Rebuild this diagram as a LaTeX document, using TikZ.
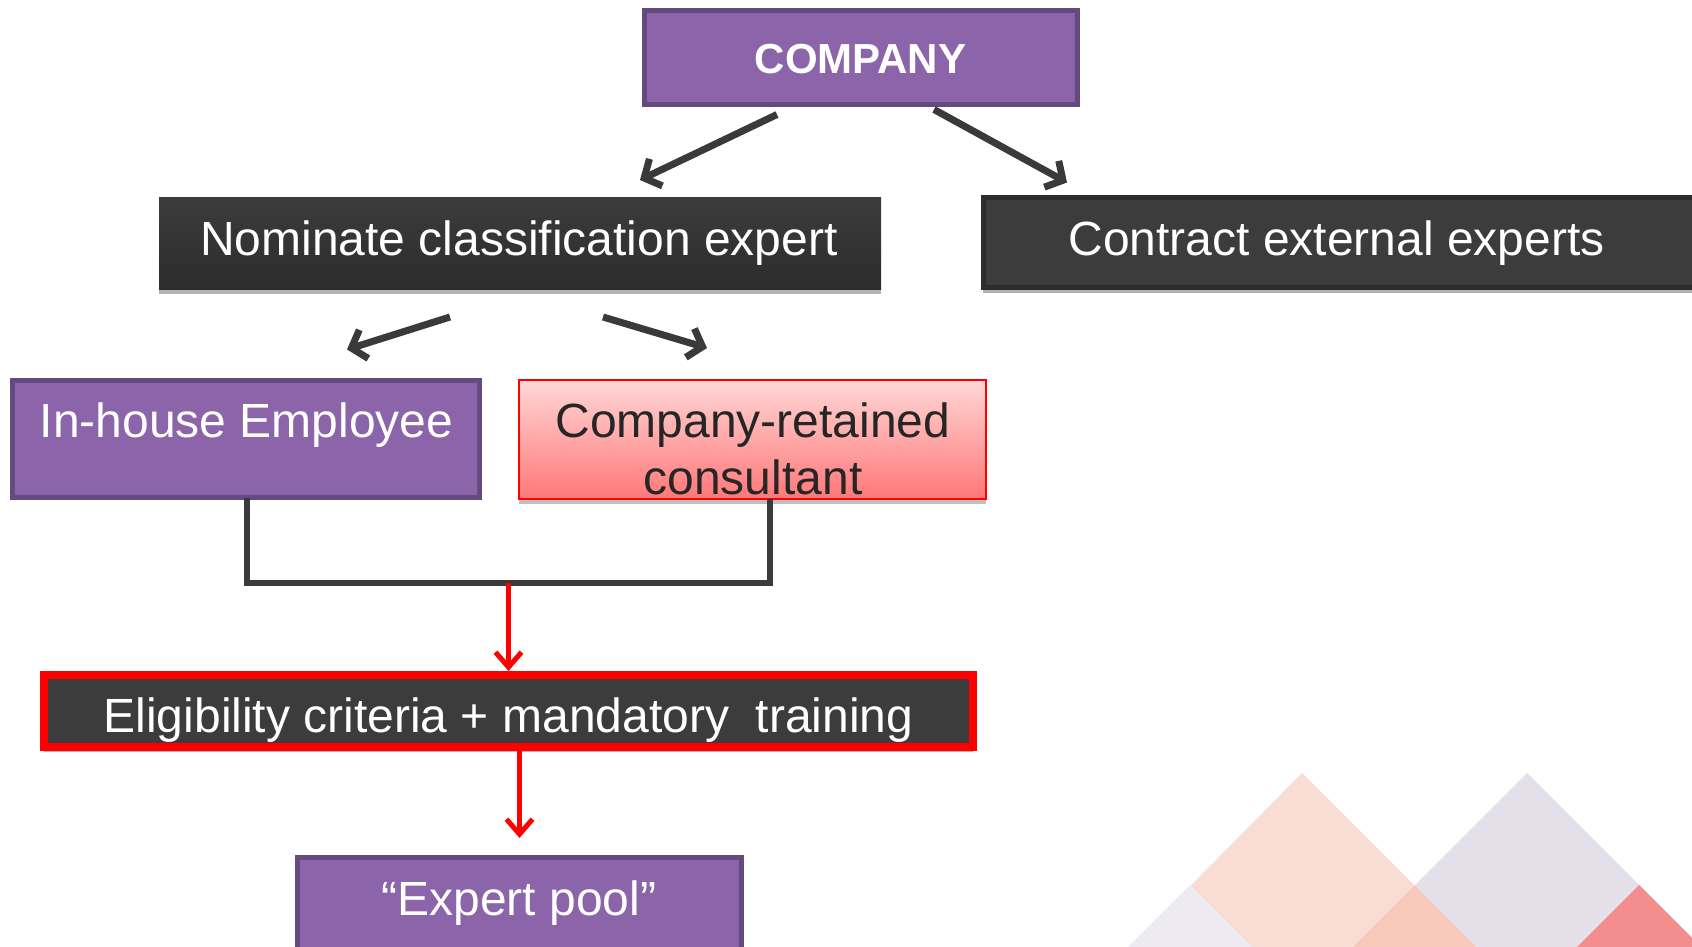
\documentclass[tikz,border=0pt]{standalone}
\usepackage{fontspec}
\setmainfont{Liberation Sans}
\usetikzlibrary{arrows.meta,calc,shadows}
\definecolor{purp}{HTML}{8C64A9}
\definecolor{purpd}{HTML}{654A80}
\definecolor{darkbox}{HTML}{3C3C3C}
\definecolor{darkboxb}{HTML}{2C2C2C}
\definecolor{arrgray}{HTML}{3A3A3A}
\definecolor{conpink}{HTML}{FFD6D6}
\definecolor{conred}{HTML}{FF7878}
\definecolor{tripeach}{HTML}{F9DDD4}
\definecolor{trilav}{HTML}{E3E0EA}
\definecolor{trilavl}{HTML}{EDEAF2}
\definecolor{triover}{HTML}{F7C8BB}
\definecolor{trired}{HTML}{F48D8E}
\tikzset{
  boxbase/.style={rectangle, inner sep=0pt, outer sep=0pt},
  purpbox/.style={boxbase, fill=purp, draw=purpd, line width=5pt},
  darkshade/.style={boxbase, top color=darkbox, bottom color=darkboxb, draw=none,
    drop shadow={shadow xshift=0pt, shadow yshift=-5pt, opacity=.3, fill=black}},
  contractbox/.style={boxbase, fill=darkbox, draw=darkboxb, line width=5pt,
    drop shadow={shadow xshift=0pt, shadow yshift=-5pt, opacity=.3, fill=black}},
  consbox/.style={boxbase, top color=conpink, bottom color=conred, draw=red, line width=2.5pt,
    drop shadow={shadow xshift=0pt, shadow yshift=-5pt, opacity=.25, fill=black}},
  eligbox/.style={boxbase, fill=darkbox, draw=red, line width=8pt,
    drop shadow={shadow xshift=0pt, shadow yshift=-5pt, opacity=.3, fill=black}},
  txt/.style={inner sep=0pt, outer sep=0pt, anchor=base, text=white, font=\fontsize{48}{57}\selectfont},
  grayarrow/.style={draw=arrgray, line width=7pt,
    -{Straight Barb[length=13pt, width=30pt, line width=7pt]}},
  redarrow/.style={draw=red, line width=4.5pt,
    -{Straight Barb[length=15pt, width=26pt, line width=5pt]}},
  joinline/.style={draw=arrgray, line width=5.5pt}
}
\begin{document}
\begin{tikzpicture}[x=1pt,y=-1pt]
\clip (0,0) rectangle (1692,947);
\fill[white] (0,0) rectangle (1692,947);
% decorative triangles
\fill[tripeach] (1302,773) -- (1128,949) -- (1478,949) -- cycle;
\fill[trilav] (1527,773) -- (1351,949) -- (1703,949) -- cycle;
\fill[triover] (1414.5,885.5) -- (1351,949) -- (1478,949) -- cycle;
\fill[trilavl] (1190,885) -- (1126,949) -- (1254,949) -- cycle;
\fill[trired] (1639,885) -- (1575,949) -- (1703,949) -- cycle;
% boxes
\node[purpbox, minimum width=433, minimum height=94] (company) at (861,57.5) {};
\node[darkshade, minimum width=722, minimum height=92] (nominate) at (520,243) {};
\node[contractbox, minimum width=720, minimum height=90] (contract) at (1343,242.5) {};
\node[purpbox, minimum width=467, minimum height=117] (inhouse) at (246,439) {};
\node[consbox, minimum width=467, minimum height=119] (consult) at (752.5,439.5) {};
\node[eligbox, minimum width=929, minimum height=72] (elig) at (508.5,711) {};
\node[purpbox, minimum width=444, minimum height=110] (pool) at (519.5,912) {};
% texts
\node[txt, font=\fontsize{42}{49}\selectfont\bfseries] (companyT) at (860.5,74) {COMPANY};
\node[txt] (nominateT) at (519,255) {Nominate classification expert};
\node[txt] (contractT) at (1336.5,255) {Contract external experts};
\node[txt] (inhouseT) at (246.5,437) {In-house Employee};
\node[txt, text=black!85, align=center] (consultT) at (753,494) {Company-retained\\consultant};
\node[txt] (eligT) at (508.5,732) {Eligibility criteria + mandatory \ training};
\node[txt] (poolT) at (519,915) {“Expert pool”};
% gray arrows
\draw[grayarrow] ($(company.south)+(-84,10)$) -- ($(nominate.north)+(120,-17)$);
\draw[grayarrow] ($(company.south)+(73,5)$) -- ($(contract.north)+(-276,-15)$);
\draw[grayarrow] ($(nominate.south)+(-70,28)$) -- ($(inhouse.north)+(101,-31)$);
\draw[grayarrow] ($(nominate.south)+(83,28)$) -- ($(consult.north)+(-45.5,-32)$);
% joining connector
\coordinate (jl) at (247,583);
\coordinate (jr) at (770,583);
\coordinate (jm) at (508.5,583);
\path (inhouse.south) ++(1,0) coordinate (is);
\draw[joinline] (is) -- (is |- jl) -- (jr) -- (jr |- consult.south);
% red arrows
\draw[redarrow] (jm) -- ($(elig.north)+(0,-4)$);
\draw[redarrow] (elig.south -| pool.north) -- ($(pool.north)+(0,-19)$);
\end{tikzpicture}
\end{document}
